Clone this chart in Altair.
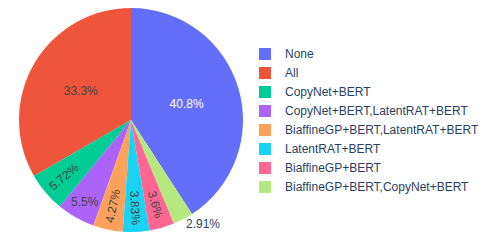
import altair as alt
import pandas as pd

labels = ["None", "All", "CopyNet+BERT", "CopyNet+BERT,LatentRAT+BERT",
          "BiaffineGP+BERT,LatentRAT+BERT", "LatentRAT+BERT", "BiaffineGP+BERT",
          "BiaffineGP+BERT,CopyNet+BERT"]
pcts = [40.8, 33.3, 5.72, 5.5, 4.27, 3.83, 3.6, 2.91]
pct_text = ["40.8%", "33.3%", "5.72%", "5.5%", "4.27%", "3.83%", "3.6%", "2.91%"]
colors = ["#636efa", "#EF553B", "#00cc96", "#ab63fa", "#FFA15A", "#19d3f3", "#FF6692", "#B6E880"]
# labels drawn horizontally (the others are rotated along the radius)
horizontal = ["None", "All", "CopyNet+BERT,LatentRAT+BERT", "BiaffineGP+BERT,CopyNet+BERT"]

n = len(labels)
df = pd.DataFrame({
    "label": labels,
    "pct": pcts,
    "txt": pct_text,
    # clockwise from 12 o'clock: largest first, then the rest in reverse
    "ord": [0 if i == 0 else n - i for i in range(n)],
})

FONT = "Liberation Sans, Arial, sans-serif"
hlist = "[" + ",".join("'" + h + "'" for h in horizontal) + "]"

base = alt.Chart(df)

arcs = base.mark_arc(outerRadius=112).encode(
    theta=alt.Theta("pct:Q", stack=True),
    order=alt.Order("ord:Q"),
    color=alt.Color(
        "label:N",
        scale=alt.Scale(domain=labels, range=colors),
        legend=alt.Legend(
            title=None, orient="none", legendX=251, legendY=40,
            symbolType="square", symbolSize=144, symbolStrokeWidth=0,
            symbolOpacity=1, labelFont=FONT, labelFontSize=12,
            labelColor="#2a3f5f", labelOffset=14, rowPadding=7, padding=0,
            labelLimit=400,
        ),
    ),
)

txt_base = base.transform_window(
    cum="sum(pct)", sort=[alt.SortField("ord")], frame=[None, 0]
).transform_joinaggregate(
    total="sum(pct)"
).transform_calculate(
    middeg="(datum.cum - datum.pct/2) / datum.total * 360",
).transform_calculate(
    mid="datum.middeg * PI / 180",
    radial="((datum.middeg - 90 > 90 ? datum.middeg - 270 : datum.middeg - 90) + 360) % 360",
).transform_calculate(
    rot="indexof(" + hlist + ", datum.label) >= 0 ? 0 : datum.radial",
    rad="datum.pct > 20 ? 58 : (datum.pct < 3 ? 118 : (indexof(" + hlist + ", datum.label) >= 0 ? 94 : 88))",
)

inside_white = txt_base.transform_filter("datum.pct > 40").mark_text(
    font=FONT, fontSize=12, color="white", align="center", baseline="middle"
).encode(
    theta=alt.Theta("mid:Q", scale=None, stack=None),
    radius=alt.Radius("rad:Q", scale=None),
    angle=alt.Angle("rot:Q", scale=None),
    text="txt:N",
)

inside_dark = txt_base.transform_filter("datum.pct <= 40 && datum.pct >= 3").mark_text(
    font=FONT, fontSize=12, color="#444444", align="center", baseline="middle"
).encode(
    theta=alt.Theta("mid:Q", scale=None, stack=None),
    radius=alt.Radius("rad:Q", scale=None),
    angle=alt.Angle("rot:Q", scale=None),
    text="txt:N",
)

outside = txt_base.transform_filter("datum.pct < 3").mark_text(
    font=FONT, fontSize=12, color="#2a3f5f", align="left", baseline="middle"
).encode(
    theta=alt.Theta("mid:Q", scale=None, stack=None),
    radius=alt.Radius("rad:Q", scale=None),
    text="txt:N",
)

chart = alt.layer(arcs, inside_white, inside_dark, outside).properties(
    width=246, height=224, padding=0
).configure_view(stroke=None)

chart.save("out.html", embed_options={"renderer": "svg", "actions": False})
